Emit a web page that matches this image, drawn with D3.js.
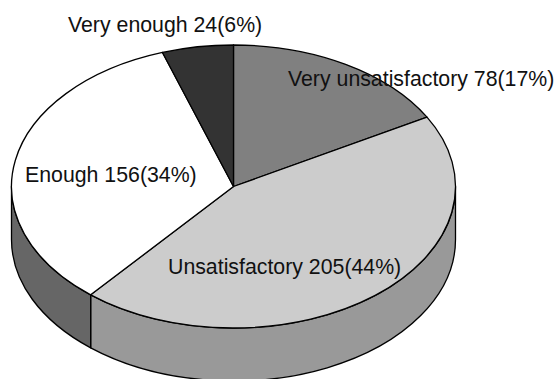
<!DOCTYPE html>
<html>
<head>
<meta charset="utf-8">
<script src="https://cdn.jsdelivr.net/npm/d3@7/dist/d3.min.js"></script>
<style>
html,body{margin:0;padding:0;background:#fff}
svg{display:block}
text{font-family:"Liberation Sans",Arial,sans-serif;font-size:21.3px;fill:#111}
</style>
</head>
<body>
<svg id="chart" width="557" height="379"></svg>
<script>
const categories = ["Very unsatisfactory", "Unsatisfactory", "Enough", "Very enough"];
const counts = [78, 205, 156, 24];
const shares = [17, 44, 34, 6];
const topColors = ["#808080", "#cccccc", "#ffffff", "#333333"];
const wallColors = ["#666666", "#999999", "#666666", "#222222"];
const labelAnchors = [[288, 86], [168, 274], [25, 182], [68, 32]];

const cx = 233.5, cy = 186.5, rx = 222, ry = 141.5, depth = 53;

const svg = d3.select("#chart");
const slices = d3.pie().sort(null).value(d => d)(counts);

// Pie angles are clockwise from twelve o'clock; project them onto the tilted disc.
const px = a => cx + rx * Math.sin(a);
const py = (a, dy = 0) => cy + dy - ry * Math.cos(a);
const arcTo = (a, dy, sweep) => `A${rx},${ry} 0 ${0} ${sweep} ${px(a)},${py(a, dy)}`;

// Split an arc into short pieces so the large-arc flag never matters.
function arcSteps(a0, a1, dy, sweep) {
  const n = Math.max(1, Math.ceil(Math.abs(a1 - a0) / (Math.PI / 2)));
  return d3.range(1, n + 1).map(i => arcTo(a0 + (a1 - a0) * i / n, dy, sweep)).join("");
}

// Rim of the disc: only the part of each slice that faces the viewer.
const front = slices
  .map((s, i) => ({
    i,
    a0: Math.max(s.startAngle, Math.PI / 2),
    a1: Math.min(s.endAngle, Math.PI * 3 / 2)
  }))
  .filter(d => d.a1 > d.a0);

svg.append("g").selectAll("path").data(front).join("path")
  .attr("d", d =>
    `M${px(d.a0)},${py(d.a0)}` + arcSteps(d.a0, d.a1, 0, 1) +
    `L${px(d.a1)},${py(d.a1, depth)}` + arcSteps(d.a1, d.a0, depth, 0) + "Z")
  .attr("fill", d => wallColors[d.i])
  .attr("stroke", "#000")
  .attr("stroke-width", 1.3)
  .attr("stroke-linejoin", "round");

// Top face of the disc.
svg.append("g").selectAll("path").data(slices).join("path")
  .attr("d", s =>
    `M${cx},${cy}L${px(s.startAngle)},${py(s.startAngle)}` +
    arcSteps(s.startAngle, s.endAngle, 0, 1) + "Z")
  .attr("fill", (s, i) => topColors[i])
  .attr("stroke", "#000")
  .attr("stroke-width", 1.3)
  .attr("stroke-linejoin", "round");

svg.append("g").selectAll("text").data(categories).join("text")
  .attr("x", (d, i) => labelAnchors[i][0])
  .attr("y", (d, i) => labelAnchors[i][1])
  .text((d, i) => `${d} ${counts[i]}(${shares[i]}%)`);
</script>
</body>
</html>
